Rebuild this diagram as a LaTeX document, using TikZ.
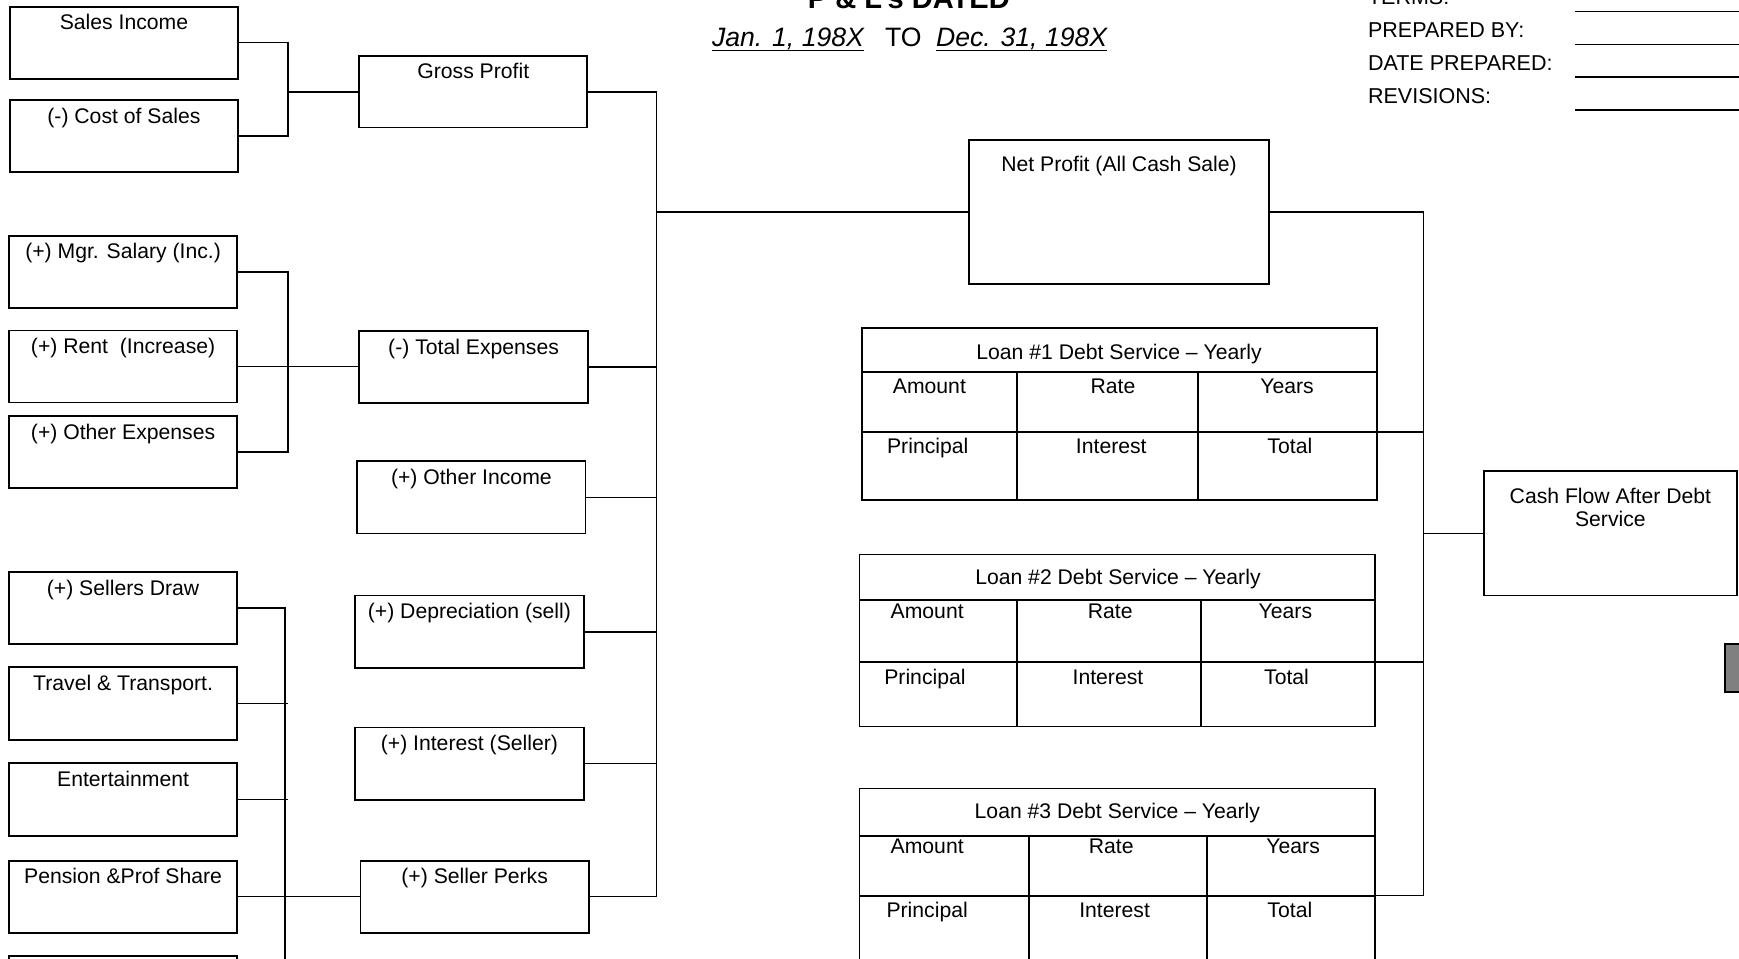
\documentclass[tikz,border=0pt]{standalone}
\usepackage{fontspec}
\setmainfont{Liberation Sans}
\usetikzlibrary{calc}
\newcommand\bxfont{\fontsize{9.55}{11}\selectfont}
\tikzset{
  box/.style={draw, line width=0.8pt, inner sep=0pt, outer sep=0pt},
  tline/.style={line width=0.8pt},
  conn/.style={line width=0.7pt},
  txt/.style={inner sep=0pt, outer sep=0pt, anchor=base, font=\bxfont},
  hdr/.style={inner sep=0pt, outer sep=0pt, anchor=base west, font=\fontsize{9.7}{11}\selectfont},
  datetxt/.style={inner sep=0pt, outer sep=0pt, anchor=base west, font=\fontsize{12}{14}\selectfont},
  uline/.style={line width=0.6pt},
  blank/.style={line width=0.75pt},
}
\newcommand\PLbox[7]{%
  \node[box, anchor=north west, minimum width={(#4-#2)*0.5pt}, minimum height={(#5-#3)*0.5pt}] (#1) at (#2,#3) {};
  \node[txt] (#1t) at ($(#1.north)+(0,#6)$) {#7};}
\newcommand\PLloan[9]{%
  \node[box, anchor=north west, minimum width={(#4-#2)*0.5pt}, minimum height={(#5-#3)*0.5pt}] (#1) at (#2,#3) {};
  \draw[tline] (#2,#6) -- (#4,#6);
  \draw[tline] (#2,#9) -- (#4,#9);
  \draw[tline] (#7,#6) -- (#7,#5);
  \draw[tline] (#8,#6) -- (#8,#5);
  \coordinate (#1m) at (#4,#9);}
\begin{document}
\begin{tikzpicture}[x=0.5pt,y=-0.5pt]
\useasboundingbox (0,0) rectangle (1568,864);
\clip (0,0) rectangle (1568,864);
% ---------- header ----------
\node[inner sep=0pt, outer sep=0pt, anchor=base, font=\bfseries\fontsize{13.1}{15}\selectfont] (title) at (819.5,7.5) {P \& L’s DATED};
\node[datetxt, font=\fontsize{12}{14}\selectfont\itshape] (jan) at (642,42) {Jan. 1, 198X};
\node[datetxt] (to) at (798,42) {TO};
\node[datetxt, font=\fontsize{12}{14}\selectfont\itshape] (dec) at (844,42) {Dec. 31, 198X};
\draw[uline] ($(jan.base west)+(0,3.7)$) -- ($(jan.base east)+(0,3.7)$);
\draw[uline] ($(dec.base west)+(0,3.7)$) -- ($(dec.base east)+(0,3.7)$);
\node[hdr] (terms) at (1233.5,3.9) {TERMS:};
\node[hdr] (prep) at (1233.5,34) {PREPARED BY:};
\node[hdr] (datep) at (1233.5,63.7) {DATE PREPARED:};
\node[hdr] (rev) at (1233.5,93.2) {REVISIONS:};
\draw[blank] (1420,10.5) -- (1572,10.5);
\draw[blank] (1420,40) -- (1572,40);
\draw[blank] (1420,69.7) -- (1572,69.7);
\draw[blank] (1420,99.3) -- (1572,99.3);
% ---------- left column ----------
\PLbox{si}{9}{6}{214.5}{71}{21}{Sales Income}
\PLbox{cs}{9}{90}{214.5}{155}{21}{(-) Cost of Sales}
\PLbox{mg}{8}{212.5}{214}{278}{21}{(+) Mgr. Salary (Inc.)}
\PLbox{rt}{8}{298}{214}{363}{21}{(+) Rent\ \ (Increase)}
\PLbox{oe}{8}{375}{214}{440}{21}{(+) Other Expenses}
\PLbox{sd}{8}{515.5}{214}{581}{21}{(+) Sellers Draw}
\PLbox{tt}{8}{601.5}{214}{667}{21}{Travel \& Transport.}
\PLbox{en}{8}{688}{214}{754}{21}{Entertainment}
\PLbox{ps}{8}{776}{214}{841}{21}{Pension \&Prof Share}
\PLbox{lb}{8}{862}{214}{928}{21}{}
% ---------- middle column ----------
\PLbox{gp}{324}{50.5}{529.5}{115}{20.5}{Gross Profit}
\PLbox{te}{324}{298.5}{530}{363.5}{21}{(-) Total Expenses}
\PLbox{oi}{322}{416}{528}{481}{21}{(+) Other Income}
\PLbox{dp}{320}{537}{526.5}{602.5}{21}{(+) Depreciation (sell)}
\PLbox{is}{320}{656}{526.5}{721}{21}{(+) Interest (Seller)}
\PLbox{sp}{325}{776}{531}{841}{21}{(+) Seller Perks}
% ---------- net profit / cash flow ----------
\PLbox{np}{873.5}{126}{1144.5}{256}{28.5}{Net Profit (All Cash Sale)}
\node[box, anchor=north west, minimum width={(1566-1338)*0.5pt}, minimum height={(537-425)*0.5pt}] (cf) at (1338,425) {};
\node[txt] (cft1) at (1452,454) {Cash Flow After Debt};
\node[txt] (cft2) at (1452,475) {Service};
\node[box, fill=gray, anchor=north west, minimum width={24*0.5pt}, minimum height={43*0.5pt}] (gr) at (1555.5,581) {};
% ---------- loan tables ----------
\PLloan{l1}{777}{296}{1241.5}{451}{335.7}{917}{1080}{389.3}
\PLloan{l2}{775}{500}{1240}{655}{541}{917}{1083}{597}
\PLloan{l3}{775}{711}{1240}{866}{753.5}{927.5}{1088}{807.6}
\node[txt] (l1h) at (1009,324) {Loan \#1 Debt Service – Yearly};
\node[txt] (l1a) at (838,354.5) {Amount};
\node[txt] (l1r) at (1003.5,354.5) {Rate};
\node[txt] (l1y) at (1160.5,354.5) {Years};
\node[txt] (l1p) at (836.5,409) {Principal};
\node[txt] (l1i) at (1002,409) {Interest};
\node[txt] (l1t) at (1163,409) {Total};
\node[txt] (l2h) at (1008,527) {Loan \#2 Debt Service – Yearly};
\node[txt] (l2a) at (836,558) {Amount};
\node[txt] (l2r) at (1001,558) {Rate};
\node[txt] (l2y) at (1159,558) {Years};
\node[txt] (l2p) at (834,617) {Principal};
\node[txt] (l2i) at (999,617) {Interest};
\node[txt] (l2t) at (1160,617) {Total};
\node[txt] (l3h) at (1007.5,738) {Loan \#3 Debt Service – Yearly};
\node[txt] (l3a) at (836,770) {Amount};
\node[txt] (l3r) at (1002,770) {Rate};
\node[txt] (l3y) at (1166,770) {Years};
\node[txt] (l3p) at (836,827) {Principal};
\node[txt] (l3i) at (1005,827) {Interest};
\node[txt] (l3t) at (1163,827) {Total};
% ---------- connectors ----------
\coordinate (j1) at (259.5,0);
\coordinate (j2) at (259.5,0);
\coordinate (j3) at (257,0);
\coordinate (j3b) at (257,880);
\coordinate (jm) at (592,0);
\coordinate (jr) at (1283.5,0);
\draw[conn] (si.east) -| (j1 |- cs.east) -- (cs.east);
\draw[conn] (j1 |- gp.west) -- (gp.west);
\draw[conn] (mg.east) -| (j2 |- oe.east) -- (oe.east);
\draw[conn] (rt.east) -- (rt.east -| te.west);
\draw[conn] (sd.east) -| (j3b);
\draw[conn] (tt.east) -- ($(j3 |- tt.east)+(2.5,0)$);
\draw[conn] (en.east) -- ($(j3 |- en.east)+(2.5,0)$);
\draw[conn] (ps.east) -- (sp.west);
\draw[conn] (gp.east) -| (jm |- sp.east) -- (sp.east);
\draw[conn] (te.east) -- (jm |- te.east);
\draw[conn] (oi.east) -- (jm |- oi.east);
\draw[conn] (dp.east) -- (jm |- dp.east);
\draw[conn] (is.east) -- (jm |- is.east);
\draw[conn] (jm |- np.west) -- (np.west);
\draw[conn] (np.east) -| (jr |- l3m);
\draw[conn] (l1m) -- (jr |- l1m);
\draw[conn] (l2m) -- (jr |- l2m);
\draw[conn] (l3m) -- (jr |- l3m);
\draw[conn] (jr |- cf.west) -- (cf.west);
\end{tikzpicture}
\end{document}
